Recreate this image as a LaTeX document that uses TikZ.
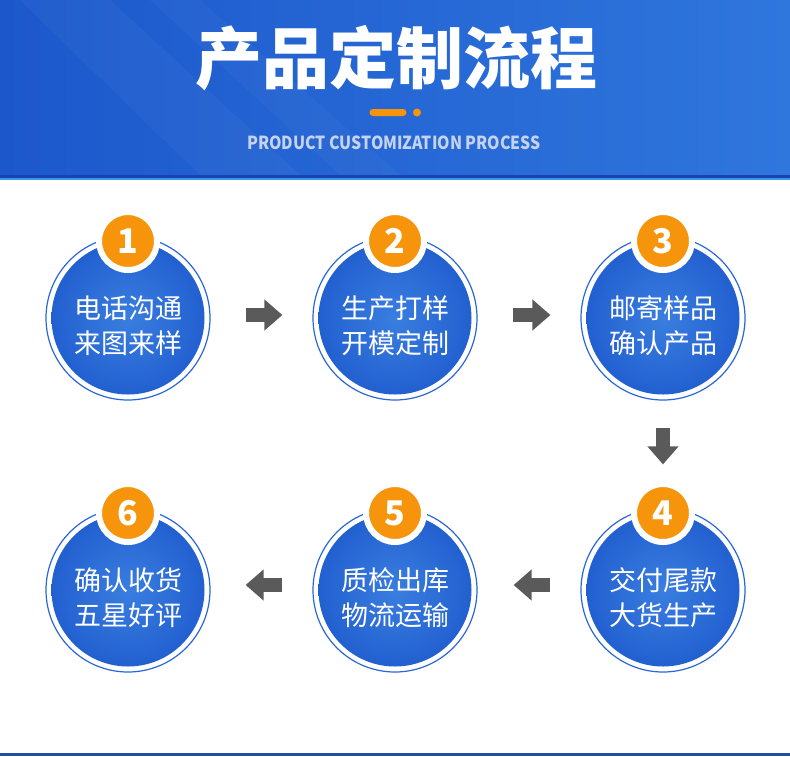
\documentclass[tikz,border=0pt]{standalone}
\usepackage{fontspec}
\newfontfamily\cjk{Noto Sans CJK SC}
\usetikzlibrary{arrows.meta}
\definecolor{headl}{HTML}{1C58CC}
\definecolor{headr}{HTML}{2F76DD}
\definecolor{banddark}{HTML}{1843B5}
\definecolor{bandlight}{HTML}{3C96EA}
\definecolor{footblue}{HTML}{1F4E9E}
\definecolor{ringblue}{HTML}{2A66D8}
\definecolor{diskin}{HTML}{3A7EE0}
\definecolor{diskout}{HTML}{2260D0}
\definecolor{badgeorange}{HTML}{F6950C}
\definecolor{arrowgray}{HTML}{5A5A5A}
\definecolor{subgray}{HTML}{C6D3EE}
\begin{document}
\begin{tikzpicture}[x=1pt,y=-1pt]
    \tikzset{
        ring/.style={draw=ringblue, line width=1.2pt, fill=white, circle, minimum size=164pt, inner sep=0pt},
        disk/.style={circle, minimum size=153pt, inner sep=0pt, inner color=diskin, outer color=diskout},
        steptext/.style={text=white, align=center, font=\cjk\fontsize{27}{35}\selectfont},
        badge/.style={circle, fill=badgeorange, draw=white, line width=6pt, minimum size=58pt, inner sep=0pt,
            text=white, font=\cjk\bfseries\fontsize{34}{34}\selectfont},
        flow/.style={line width=14pt, draw=arrowgray, -{Triangle[length=18pt, width=30pt]}}
    }
    \useasboundingbox (0,0) rectangle (790,756);

    % header band
    \fill[left color=headl, right color=headr] (0,0) rectangle (790,175);
    \fill[white, opacity=0.035] (20,0) -- (110,0) -- (300,175) -- (200,175) -- cycle;
    \fill[white, opacity=0.03] (150,0) -- (200,0) -- (400,175) -- (340,175) -- cycle;
    \fill[banddark] (0,175) rectangle (790,177.5);
    \fill[bandlight] (0,177.5) rectangle (790,180);
    \fill[footblue] (0,753) rectangle (790,756);

    \draw node[text=white, font=\cjk\bfseries\fontsize{67}{67}\selectfont] (title) at (396,58) {产品定制流程};
    \draw node[fill=badgeorange, rounded corners=3.5pt, minimum width=37pt, minimum height=7pt, inner sep=0pt] (bar) at (388,112.5) {};
    \draw node[circle, fill=badgeorange, minimum size=8pt, inner sep=0pt] (dot) at (417,112.5) {};
    \draw node[text=subgray, xscale=0.88, font=\cjk\bfseries\fontsize{18}{18}\selectfont] (sub) at (394,143) {PRODUCT CUSTOMIZATION PROCESS};

    % steps
    \foreach \n/\x/\y/\txt in {1/128/318/{电话沟通\\来图来样}, 2/395/318/{生产打样\\开模定制},
        3/663/318/{邮寄样品\\确认产品}, 4/663/590/{交付尾款\\大货生产},
        5/395/590/{质检出库\\物流运输}, 6/128/590/{确认收货\\五星好评}}{
        \draw node[ring] (s\n) at (\x,\y) {};
        \draw node[disk] (d\n) at (s\n) {};
        \draw node[steptext] (t\n) at (\x,{\y+8}) {\txt};
        \draw node[badge] (b\n) at (\x,{\y-77}) {\n};
    }

    \draw[flow] ([xshift=35pt,yshift=3pt]s1.east) -- ([xshift=-30pt,yshift=3pt]s2.west);
    \draw[flow] ([xshift=35pt,yshift=3pt]s2.east) -- ([xshift=-30pt,yshift=3pt]s3.west);
    \draw[flow] ([yshift=-27pt]s3.south) -- ([yshift=43pt]s4.north);
    \draw[flow] ([xshift=-30pt,yshift=5pt]s4.west) -- ([xshift=36pt,yshift=5pt]s5.east);
    \draw[flow] ([xshift=-30pt,yshift=5pt]s5.west) -- ([xshift=35pt,yshift=5pt]s6.east);
\end{tikzpicture}
\end{document}
